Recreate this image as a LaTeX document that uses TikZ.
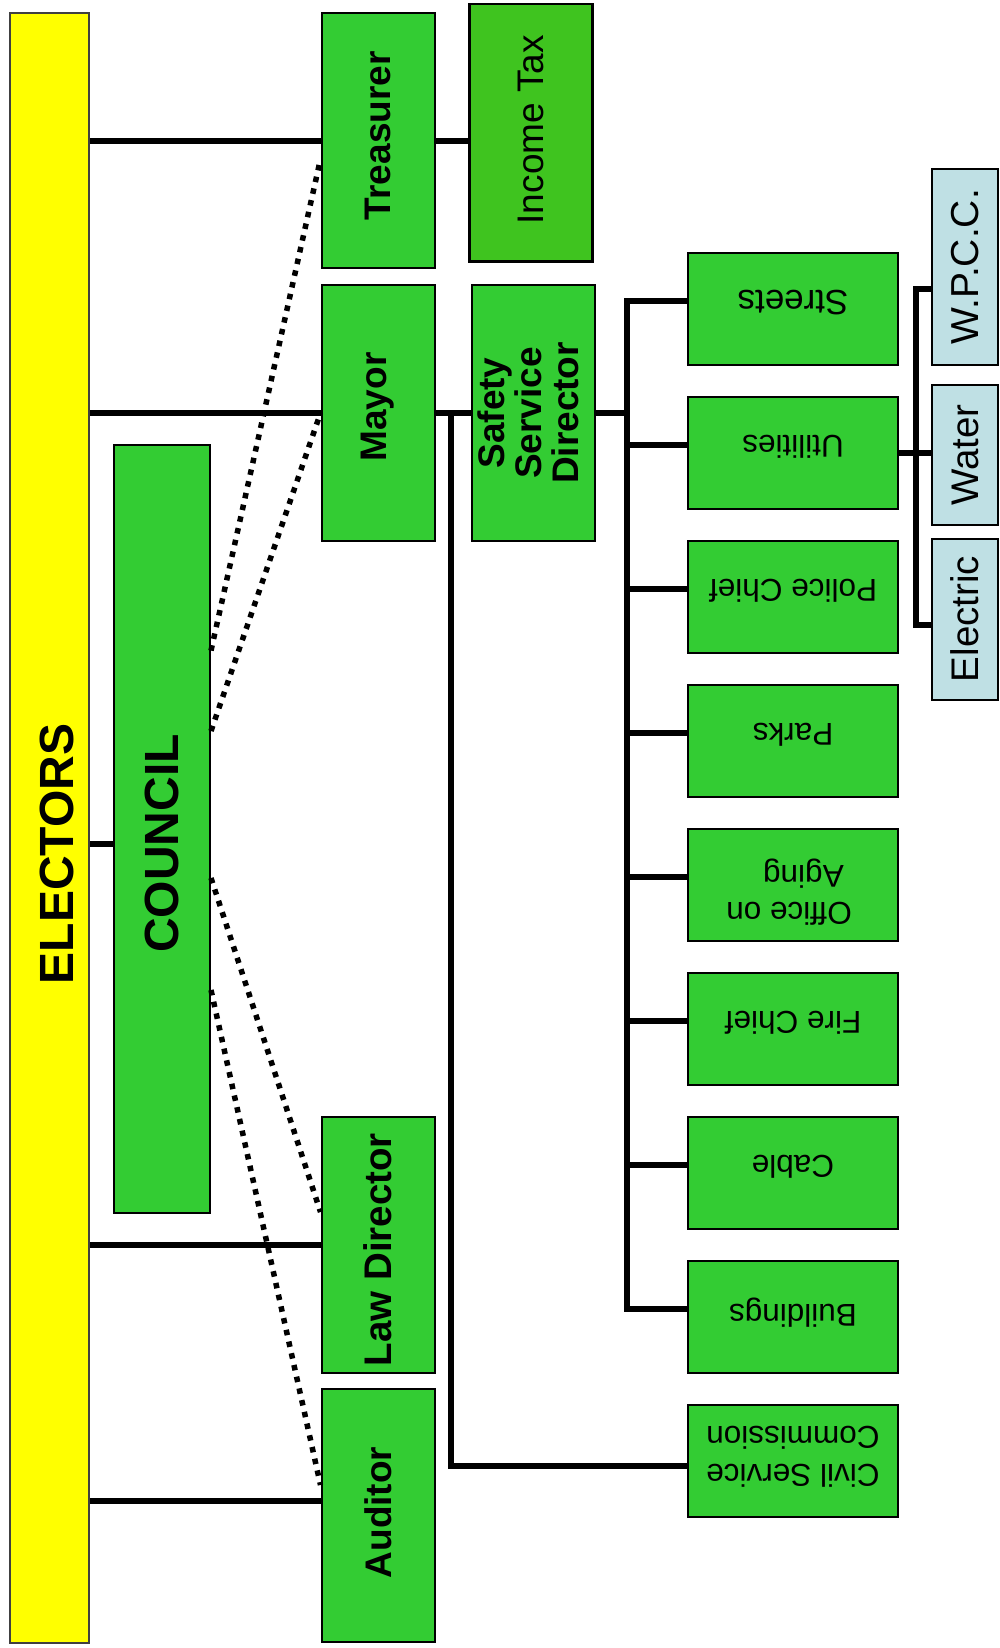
\documentclass[tikz,border=0pt]{standalone}
\usepackage{fontspec}
\setmainfont{Liberation Sans}
\usepackage{graphicx}
\usetikzlibrary{calc}
\definecolor{grn}{HTML}{33CC33}
\definecolor{grntax}{HTML}{3FC41F}
\definecolor{ylw}{HTML}{FFFF00}
\definecolor{lblue}{HTML}{BFE0E4}
\newcommand\fsz[2]{\fontsize{#1}{#2}\selectfont}
% upside-down text, shifted up by #1 in the picture
\newcommand\updown[2]{\rotatebox{180}{\raisebox{0pt}[\dimexpr\height+#1\relax][\depth]{#2}}}
\begin{document}
\begin{tikzpicture}[x=1pt,y=-1pt,
  box/.style={draw=black, line width=2pt, fill=grn, inner sep=0pt, align=center},
  leftbox/.style={box, minimum width=113pt, minimum height=256pt},
  rbox/.style={box, minimum width=210pt, minimum height=112pt},
  bbox/.style={box, fill=lblue, minimum width=66pt},
  conn/.style={line width=6pt},
  dots/.style={line width=5.5pt, dash pattern=on 5.5pt off 6.5pt}]
\useasboundingbox (0,0) rectangle (999,1648);

% main column
\node[box, fill=ylw, draw=black!75, minimum width=79pt, minimum height=1630pt] (electors) at (49.5,828)
  {\rotatebox{90}{\fsz{48}{50}\bfseries\rule{0pt}{48pt}ELECTORS\hspace{52pt}}};
\node[box, minimum width=96pt, minimum height=768pt] (council) at (162,828.6)
  {\rotatebox{90}{\fsz{48}{50}\bfseries COUNCIL\hspace{30pt}}};

\node[leftbox, minimum height=255.5pt] (treasurer) at (378,140.7)
  {\rotatebox{90}{\fsz{37}{40}\bfseries\hspace*{10pt}Treasurer}};
\node[leftbox] (mayor) at (378,413)
  {\rotatebox{90}{\fsz{37}{40}\bfseries\hspace*{12pt}Mayor}};
\node[leftbox] (lawdir) at (378,1244.6)
  {\rotatebox{90}{\fsz{38.5}{40}\bfseries Law Director\hspace*{10pt}}};
\node[leftbox, minimum height=253pt] (auditor) at (378,1515.5)
  {\rotatebox{90}{\fsz{37}{40}\bfseries\hspace*{6pt}Auditor}};

\node[box, fill=grntax, line width=2.6pt, minimum width=122.5pt, minimum height=257.5pt] (incometax) at (531,132.7)
  {\rotatebox{90}{\fsz{37}{40}\hspace*{6pt}Income Tax}};
\node[box, minimum width=123pt, minimum height=256pt] (ssd) at (533,413)
  {\rotatebox{90}{\fsz{37}{32.5}\bfseries\begin{tabular}{@{}c@{}}Safety\\Service\\Director\end{tabular}}};

% right column
\node[rbox] (streets) at (793,309) {\updown{12pt}{\fsz{35}{38}Streets}};
\node[rbox] (utilities) at (793,453) {\updown{12pt}{\fsz{31.5}{38}Utilities}};
\node[rbox] (police) at (793,597) {\updown{12pt}{\fsz{31.5}{38}Police Chief}};
\node[rbox] (parks) at (793,741) {\updown{12pt}{\fsz{31.5}{38}Parks}};
\node[rbox] (aging) at (793,885) {\updown{-12pt}{\fsz{31.5}{37}\hspace*{8pt}\begin{tabular}{@{}l@{}}Office on\\\hspace{8pt}Aging\end{tabular}}};
\node[rbox] (fire) at (793,1029) {\updown{12pt}{\fsz{31.5}{38}Fire Chief}};
\node[rbox] (cable) at (793,1173) {\updown{12pt}{\fsz{31.5}{38}Cable}};
\node[rbox] (buildings) at (793,1317) {\updown{8pt}{\fsz{31.5}{38}Buildings}};
\node[rbox] (civil) at (793,1461) {\updown{16pt}{\fsz{31.5}{38}\begin{tabular}{@{}c@{}}Civil Service\\Commission\end{tabular}}};

% utilities sub-units
\node[bbox, minimum height=196pt] (wpcc) at (965,266.8) {\rotatebox{90}{\fsz{39}{40}W.P.C.C.}};
\node[bbox, minimum height=140pt] (water) at (965,455) {\rotatebox{90}{\fsz{38.5}{40}Water}};
\node[bbox, minimum height=161pt] (electric) at (965,619) {\rotatebox{90}{\fsz{38.5}{40}Electric}};

% solid connectors from electors
\draw[conn] (electors.east |- treasurer.west) -- (treasurer.west);
\draw[conn] (electors.east |- mayor.west) -- (mayor.west);
\coordinate (cw) at ([yshift=-15.4pt]council.west);
\draw[conn] (electors.east |- cw) -- (cw);
\draw[conn] (electors.east |- lawdir.west) -- (lawdir.west);
\coordinate (aw) at ([yshift=14.8pt]auditor.west);
\draw[conn] (electors.east |- aw) -- (aw);

\draw[conn] (treasurer.east) -- (treasurer.east -| incometax.west);
\draw[conn] (mayor.east) -- (ssd.west);

% mayor to civil service
\coordinate (mbus) at ($(mayor.east)+(15.5,0)$);
\coordinate (cvw) at ([yshift=-5pt]civil.west);
\draw[conn] (mbus) |- (cvw);

% safety service director bus
\coordinate (sbus) at ($(ssd.east)+(31,0)$);
\draw[conn] (ssd.east) -- (sbus);
\foreach \n in {streets,utilities,police,parks,aging,fire,cable,buildings}{
  \coordinate (br) at ([yshift=8.5pt]\n.west);
  \draw[conn] (br) -- (sbus |- br);
}
\coordinate (sbtop) at ([yshift=8.5pt]streets.west);
\coordinate (sbbot) at ([yshift=8.5pt]buildings.west);
\draw[conn, line cap=rect] (sbus |- sbtop) -- (sbus |- sbbot);

% utilities bus
\coordinate (ubus) at ($(utilities.east)+(17,0)$);
\draw[conn] (utilities.east) -- (utilities.east -| water.west);
\coordinate (wpw) at ([yshift=-22pt]wpcc.west);
\coordinate (elw) at ([yshift=-6pt]electric.west);
\draw[conn] (wpw) -- (ubus |- wpw);
\draw[conn] (elw) -- (ubus |- elw);
\draw[conn, line cap=rect] (ubus |- wpw) -- (ubus |- elw);

% dotted council links
\draw[dots] ([yshift=178pt]council.east) -- ([yshift=-18.3pt]treasurer.west);
\draw[dots] ([yshift=97.6pt]council.east) -- (mayor.west);
\draw[dots] ([yshift=-49.4pt]council.east) -- ([yshift=32.6pt]lawdir.west);
\draw[dots] ([yshift=-161.4pt]council.east) -- ([yshift=30.5pt]auditor.west);
\end{tikzpicture}
\end{document}
